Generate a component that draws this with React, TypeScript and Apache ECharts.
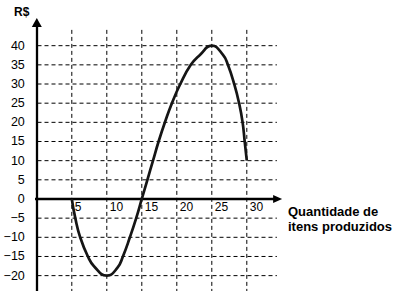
import React, { useEffect, useRef } from "react";
import * as echarts from "echarts";

// Curve (x = items produced, y = R$)
const curveX = [5, 5.5, 6.2, 7.3, 8.2, 10, 11.5, 12.3, 13.3, 14.2, 15, 15.8, 16.6, 17.4, 18.3, 19.3, 20.5, 22, 23.3, 25, 26.6, 27.3, 28.2, 28.9, 29.4, 29.7, 30];
const curveY = [0, -5, -10, -15, -17.6, -20, -18, -15, -10, -5, 0, 5, 10, 15, 20, 25, 30, 35, 37.6, 40, 37.6, 35, 30, 25, 20, 15, 10];

// Dashed grid positions
const xGridTicks = [5, 10, 15, 20, 25, 30];
const yGridTicks = [-20, -15, -10, -5, 5, 10, 15, 20, 25, 30, 35, 40];

const yAxisTitle = "R$";
const xAxisTitle = "Quantidade de\nitens produzidos";

const FONT = "'Liberation Sans', Arial, Helvetica, sans-serif";

// plot geometry (pixels)
const GRID_TOP = 22.5;
const GRID_HEIGHT = 272.3;
const Y_MIN = -25;
const Y_MAX = 46.05;

export default function App() {
  const ref = useRef<HTMLDivElement>(null);

  useEffect(() => {
    const chart = echarts.init(ref.current!, null, { renderer: "svg" });
    const dash = { color: "#000", width: 1, type: [4, 3] as any };
    // distance from grid bottom up to the y = 0 line
    const zeroOffset = (GRID_HEIGHT * (0 - Y_MIN)) / (Y_MAX - Y_MIN);

    const gridSeries: any[] = [
      ...yGridTicks.map((v) => ({
        type: "line",
        data: [[-0.9, v], [34.3, v]],
        symbol: "none",
        lineStyle: dash,
        silent: true,
        clip: false,
        z: 1,
      })),
      ...xGridTicks.map((v) => ({
        type: "line",
        data: [[v, -24.5], [v, 44.6]],
        symbol: "none",
        lineStyle: dash,
        silent: true,
        clip: false,
        z: 1,
      })),
      {
        type: "line",
        data: [[-0.9, 0], [0, 0]],
        symbol: "none",
        lineStyle: { color: "#000", width: 2.3 },
        silent: true,
        clip: false,
        z: 1,
      },
    ];

    chart.setOption({
      animation: false,
      backgroundColor: "#fff",
      grid: {
        left: 36.8,
        top: GRID_TOP,
        width: 240.8,
        height: GRID_HEIGHT,
        containLabel: false,
        outerBoundsMode: "none",
      },
      xAxis: {
        type: "value",
        min: 0,
        max: 34.4,
        interval: 5,
        position: "bottom",
        offset: -zeroOffset,
        axisLine: {
          show: true,
          onZero: false,
          symbol: ["none", "triangle"],
          symbolSize: [8, 9],
          lineStyle: { color: "#000", width: 2.3 },
        },
        axisTick: { show: false },
        splitLine: { show: false },
        axisLabel: {
          formatter: (v: number) => (v > 0 && v <= 30 && v % 5 === 0 ? String(v) : ""),
          align: "left",
          padding: [0, 0, 0, 3],
          margin: 2,
          fontSize: 12,
          color: "#000",
          fontFamily: FONT,
        },
      },
      yAxis: {
        type: "value",
        min: Y_MIN,
        max: Y_MAX,
        interval: 5,
        axisLine: {
          show: true,
          onZero: false,
          symbol: ["none", "triangle"],
          symbolSize: [10, 9],
          lineStyle: { color: "#000", width: 2.3 },
        },
        axisTick: { show: false },
        splitLine: { show: false },
        axisLabel: {
          formatter: (v: number) =>
            v >= -20 && v <= 40 && v % 5 === 0 ? String(v).replace("-", "\u2212") : "",
          margin: 12,
          fontSize: 12.5,
          color: "#000",
          fontFamily: FONT,
        },
      },
      series: [
        ...gridSeries,
        {
          type: "line",
          data: curveX.map((x, i) => [x, curveY[i]]),
          smooth: 0.5,
          symbol: "none",
          lineStyle: { color: "#151515", width: 2.7 },
          clip: false,
          z: 5,
        },
      ],
      graphic: [
        {
          type: "text",
          x: 14,
          y: 6,
          style: { text: yAxisTitle, font: `bold 12px ${FONT}`, fill: "#000" },
        },
        {
          type: "text",
          x: 288,
          y: 203.5,
          style: { text: xAxisTitle, font: `bold 13px ${FONT}`, lineHeight: 15, fill: "#000" },
        },
      ],
    });

    return () => chart.dispose();
  }, []);

  return (
    <div
      ref={ref}
      style={{ position: "fixed", left: 0, top: 0, width: 405, height: 291, background: "#fff" }}
    />
  );
}
